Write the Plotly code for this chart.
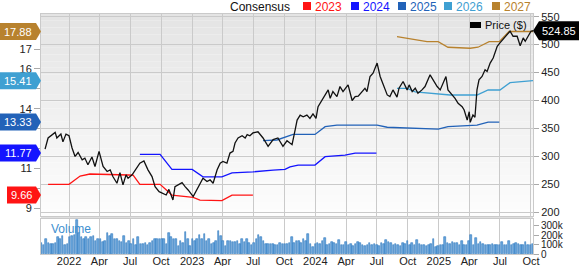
import plotly.graph_objects as go
import pandas as pd

# ---------------- data ----------------
price_dates = [
    "2021-10-22", "2021-10-31", "2021-11-21", "2021-11-26", "2021-12-08", "2021-12-14", "2021-12-23",
    "2022-01-01", "2022-01-10", "2022-01-19", "2022-01-28", "2022-02-09", "2022-02-17", "2022-02-26",
    "2022-03-10", "2022-03-19", "2022-03-31", "2022-04-12", "2022-04-24", "2022-05-03", "2022-05-11",
    "2022-05-23", "2022-06-01", "2022-06-10", "2022-06-19", "2022-06-25", "2022-07-07", "2022-07-22",
    "2022-07-30", "2022-08-11", "2022-08-23", "2022-09-04", "2022-09-13", "2022-09-25", "2022-10-07",
    "2022-10-16", "2022-10-24", "2022-11-05", "2022-11-11", "2022-11-20", "2022-12-02", "2022-12-11",
    "2022-12-20", "2023-01-04", "2023-01-15", "2023-01-24", "2023-02-02", "2023-02-14", "2023-02-23",
    "2023-03-04", "2023-03-16", "2023-03-25", "2023-04-02", "2023-04-14", "2023-04-23", "2023-05-02",
    "2023-05-08", "2023-05-17", "2023-05-29", "2023-06-07", "2023-06-13", "2023-06-21", "2023-06-30",
    "2023-07-15", "2023-07-30", "2023-08-14", "2023-08-29", "2023-09-12", "2023-09-27", "2023-10-09",
    "2023-10-24", "2023-11-02", "2023-11-08", "2023-11-17", "2023-11-26", "2023-12-07", "2023-12-16",
    "2023-12-25", "2024-01-03", "2024-01-09", "2024-01-21", "2024-01-30", "2024-02-08", "2024-02-14",
    "2024-02-22", "2024-03-05", "2024-03-14", "2024-03-23", "2024-04-04", "2024-04-07", "2024-04-19",
    "2024-04-28", "2024-05-07", "2024-05-18", "2024-05-27", "2024-06-02", "2024-06-11", "2024-06-20",
    "2024-07-02", "2024-07-11", "2024-07-20", "2024-08-01", "2024-08-09", "2024-08-18", "2024-08-30",
    "2024-09-05", "2024-09-17", "2024-09-29", "2024-10-05", "2024-10-14", "2024-10-23", "2024-10-31",
    "2024-11-12", "2024-11-21", "2024-12-06", "2024-12-15", "2024-12-27", "2025-01-05", "2025-01-14",
    "2025-01-22", "2025-01-28", "2025-02-09", "2025-02-18", "2025-02-27", "2025-03-11", "2025-03-17",
    "2025-03-26", "2025-04-01", "2025-04-04", "2025-04-12", "2025-04-18", "2025-04-24", "2025-04-30",
    "2025-05-09", "2025-05-18", "2025-05-24", "2025-06-02", "2025-06-11", "2025-06-23", "2025-07-01",
    "2025-07-10", "2025-07-22", "2025-07-31", "2025-08-09", "2025-08-21", "2025-08-30", "2025-09-08",
    "2025-09-14", "2025-09-22", "2025-10-01", "2025-10-07",
]
price_vals = [
    313, 333, 343, 333, 340, 326, 340,
    337, 315, 300, 307, 294, 297, 285,
    299, 282, 309, 282, 273, 276, 264,
    252, 271, 249, 267, 261, 267, 282,
    288, 292, 276, 264, 246, 237, 233,
    231, 241, 222, 246, 249, 253, 246,
    240, 228, 240, 249, 261, 255, 258,
    252, 276, 288, 291, 288, 306, 309,
    324, 333, 337, 333, 339, 337, 342,
    344, 333, 318, 330, 333, 318, 328,
    321, 347, 365, 374, 371, 374, 368,
    376, 368, 389, 401, 410, 419, 404,
    416, 407, 425, 416, 425, 428, 400,
    407, 408, 416, 422, 416, 443, 449,
    467, 443, 428, 410, 407, 419, 406,
    422, 434, 419, 428, 416, 422, 413,
    419, 425, 446, 437, 425, 419, 431,
    443, 419, 410, 404, 395, 389, 383,
    365, 380, 361, 374, 370, 419, 437,
    443, 455, 452, 467, 476, 497, 503,
    509, 518, 524, 515, 515, 498, 512,
    506, 515, 524, 524.85,
]

eps23_dates = ["2021-10-31", "2022-01-01", "2022-02-03", "2022-03-04", "2022-06-25", "2022-07-10",
               "2022-07-30", "2022-09-28", "2022-11-02", "2023-01-04", "2023-01-24", "2023-03-30",
               "2023-04-29", "2023-06-30"]
eps23_vals = [10.2, 10.2, 10.62, 10.72, 10.67, 10.66, 10.2, 10.2, 9.66, 9.55, 9.41, 9.38, 9.66, 9.66]

eps24_dates = ["2022-07-30", "2022-09-28", "2022-11-02", "2023-01-01", "2023-02-02", "2023-03-30",
               "2023-04-29", "2023-06-30", "2023-08-29", "2023-10-03", "2023-10-18", "2023-11-11",
               "2023-12-31", "2024-01-30", "2024-03-29", "2024-04-28", "2024-06-30"]
eps24_vals = [11.71, 11.71, 10.95, 10.95, 10.58, 10.58, 10.78, 10.83, 10.92, 10.95, 11.08, 11.17,
              11.17, 11.59, 11.67, 11.77, 11.77]

eps25_dates = ["2023-07-30", "2023-09-09", "2023-10-27", "2023-12-31", "2024-01-30", "2024-03-05",
               "2024-07-02", "2024-08-01", "2024-12-30", "2025-01-28", "2025-04-24", "2025-05-27",
               "2025-06-29"]
eps25_vals = [12.40, 12.43, 12.71, 12.71, 13.10, 13.18, 13.18, 13.07, 12.98, 13.10, 13.18, 13.33, 13.33]

eps26_dates = ["2024-08-30", "2024-09-29", "2024-10-23", "2025-02-03", "2025-04-24", "2025-05-27",
               "2025-07-01", "2025-07-31", "2025-10-07"]
eps26_vals = [15.02, 15.02, 14.85, 14.69, 14.69, 14.94, 14.94, 15.31, 15.41]

eps27_dates = ["2024-08-30", "2024-11-27", "2024-12-30", "2025-01-28", "2025-04-04", "2025-04-27",
               "2025-05-30", "2025-06-29", "2025-07-28", "2025-10-07"]
eps27_vals = [17.62, 17.37, 17.37, 17.09, 17.04, 17.09, 17.37, 17.37, 17.88, 17.88]

volume_start = "2021-10-11"
volume_k = [
    118, 93, 164, 118, 107, 107, 118, 179, 154, 189,
    93, 107, 179, 189, 200, 357, 225, 179, 164, 179,
    164, 179, 189, 136, 154, 154, 129, 136, 225, 189,
    214, 164, 154, 143, 129, 189, 118, 136, 107, 164,
    100, 179, 107, 107, 118, 100, 118, 136, 154, 154,
    154, 154, 164, 107, 225, 179, 164, 164, 82, 143,
    118, 236, 164, 82, 164, 136, 154, 200, 164, 207,
    136, 164, 107, 118, 136, 243, 189, 143, 82, 136,
    143, 129, 129, 136, 107, 164, 129, 154, 118, 93,
    118, 154, 200, 179, 136, 107, 107, 107, 107, 93,
    100, 118, 107, 107,
    107, 118, 180, 118, 136, 143, 118, 154, 136, 215,
    107, 71, 107, 118, 107, 143, 170, 100, 107, 129,
    118, 107, 150, 93, 100, 129, 93, 107, 82, 107,
    125, 118, 93, 82, 100, 118, 100, 107, 93, 82,
    115, 107, 150, 129, 118, 100, 107, 93, 82, 118,
    107, 136, 93, 118, 100, 150, 107, 93, 100, 82,
    93, 107, 160, 71, 82, 100, 93, 175, 118, 107,
    129, 118, 118, 100, 136, 100, 93, 143, 200, 100,
    165, 107, 129, 107, 100, 93, 100, 107, 100, 93,
    100, 129, 93, 93, 140, 93, 107, 118, 107, 100,
    93, 125, 93, 100, 107,
]

tick_dates = ["2022-01-01", "2022-04-01", "2022-07-01", "2022-10-01",
              "2023-01-01", "2023-04-01", "2023-07-01", "2023-10-01",
              "2024-01-01", "2024-04-01", "2024-07-01", "2024-10-01",
              "2025-01-01", "2025-04-01", "2025-07-01", "2025-10-01"]
tick_text = ["2022", "Apr", "Jul", "Oct", "2023", "Apr", "Jul", "Oct",
             "2024", "Apr", "Jul", "Oct", "2025", "Apr", "Jul", "Oct"]

eps_tick_vals = [9, 10, 11, 12, 13, 14, 15, 16, 17]
eps_tick_text = ["9", "", "11", "", "", "14", "", "16", "17"]  # others hidden behind badges

price_tick_vals = [200, 250, 300, 350, 400, 450, 500, 550]
vol_tick_vals = [0, 100000, 200000, 300000]
vol_tick_text = ["0", "100k", "200k", "300k"]

series = [
    ("2023", eps23_dates, eps23_vals, "#ff1414"),
    ("2024", eps24_dates, eps24_vals, "#1414ff"),
    ("2025", eps25_dates, eps25_vals, "#2262b8"),
    ("2026", eps26_dates, eps26_vals, "#3fa0d2"),
    ("2027", eps27_dates, eps27_vals, "#b8822e"),
]

# ---------------- layout geometry ----------------
W, H = 579, 266
L, R, T, B = 41, 46, 14, 12
PW = W - L - R
PH = H - T - B
FONT = "Liberation Sans, Arial, sans-serif"


def pxx(p):
    return (p - L) / PW


def pxy(p):
    return (H - B - p) / PH


price_dom = [pxy(216), 1.0]
vol_dom = [0.0, pxy(219)]

fig = go.Figure()

vol_dates = pd.date_range(volume_start, periods=len(volume_k), freq="7D")
fig.add_trace(go.Bar(
    x=vol_dates, y=[v * 1000 for v in volume_k], yaxis="y3", xaxis="x",
    marker=dict(color="#6aa6dc", line=dict(color="#2f78c0", width=0.6)),
    width=4.6 * 24 * 3600 * 1000, showlegend=False, hoverinfo="skip",
))

for name, d, v, c in series:
    fig.add_trace(go.Scatter(x=d, y=v, yaxis="y", mode="lines",
                             line=dict(color=c, width=1.3), showlegend=False))

fig.add_trace(go.Scatter(x=price_dates, y=price_vals, yaxis="y2", mode="lines",
                         line=dict(color="#111111", width=1.3), showlegend=False))

grid = "#cacaca"
fig.update_layout(
    width=W, height=H,
    margin=dict(l=L, r=R, t=T, b=B, pad=0),
    paper_bgcolor="white", plot_bgcolor="rgba(0,0,0,0)",
    font=dict(family=FONT, size=11, color="#222"),
    showlegend=False,
    bargap=0,
    xaxis=dict(type="date", range=["2021-10-10", "2025-10-07"], domain=[0, 1], anchor="y3",
               tickvals=tick_dates, ticktext=tick_text, showgrid=True, gridcolor=grid, gridwidth=1,
               ticks="", showline=True, linecolor=grid, mirror="all", automargin=False,
               ticklabelstandoff=-3,
               tickfont=dict(size=11, color="#222"), zeroline=False),
    yaxis=dict(domain=price_dom, range=[8.61, 18.76], side="left", anchor="x",
               tickvals=eps_tick_vals, ticktext=eps_tick_text, showgrid=False, zeroline=False,
               ticks="outside", ticklen=6, tickcolor="#aaaaaa", automargin=False,
               showline=True, linecolor=grid, tickfont=dict(size=11, color="#222")),
    yaxis2=dict(overlaying="y", side="right", range=[193.4, 554.8], anchor="x",
                tickvals=price_tick_vals, showgrid=True,
                gridcolor=grid, gridwidth=1, zeroline=False, ticks="outside", ticklen=5,
                tickcolor="#aaaaaa", automargin=False, showline=True, linecolor=grid,
                tickfont=dict(size=11, color="#222")),
    yaxis3=dict(domain=vol_dom, range=[0, 371000], side="right", anchor="x",
                tickvals=vol_tick_vals, ticktext=vol_tick_text,
                showgrid=False, zeroline=False, ticks="outside", ticklen=5, tickcolor="#aaaaaa",
                automargin=False, showline=True, linecolor=grid, mirror=True,
                tickfont=dict(size=10, color="#222")),
)

shapes = []
# gradient background in the price panel
n = 30
for i in range(n):
    g0 = 228 + (253 - 228) * i / (n - 1)
    g = int(round(g0))
    shapes.append(dict(type="rect", xref="x domain", yref="y domain",
                       x0=0, x1=1, y0=1 - (i + 1) / n, y1=1 - i / n,
                       fillcolor=f"rgb({g},{g},{g})", line=dict(width=0), layer="below"))
# separator band between panels
shapes.append(dict(type="rect", xref="paper", yref="paper", x0=0, x1=1,
                   y0=pxy(219), y1=pxy(216), fillcolor="#dedede", line=dict(width=0), layer="below"))

annotations = []
# EPS badges on left
for name, d, v, c in series:
    last = v[-1]
    label = f"{last:.2f}"
    left = -41 if len(label) >= 5 else -34
    shapes.append(dict(type="path", xref="paper", yref="y", xsizemode="pixel", ysizemode="pixel",
                       xanchor=0, yanchor=last,
                       path=f"M{left},-8.5 L-5,-8.5 L0,0 L-5,8.5 L{left},8.5 Z",
                       fillcolor=c, line=dict(width=0), layer="above"))
    annotations.append(dict(xref="paper", yref="y", x=0, y=last, xshift=(left - 5) / 2,
                            showarrow=False, xanchor="center", yanchor="middle", text=label,
                            font=dict(size=11, color="white", family=FONT)))

# price badge on right
last_price = price_vals[-1]
shapes.append(dict(type="path", xref="paper", yref="y2", xsizemode="pixel", ysizemode="pixel",
                   xanchor=1, yanchor=last_price,
                   path="M0,0 L6,-9.5 L46,-9.5 L46,9.5 L6,9.5 Z",
                   fillcolor="#000000", line=dict(width=0), layer="above"))
annotations.append(dict(xref="paper", yref="y2", x=1, y=last_price, xshift=26, showarrow=False,
                        xanchor="center", yanchor="middle", text=f"{last_price:.2f}",
                        font=dict(size=11, color="white", family=FONT)))

# top legend
LEG_Y = 7
annotations.append(dict(xref="paper", yref="paper", x=pxx(229), y=pxy(LEG_Y), xanchor="left",
                        yanchor="middle", showarrow=False, text="Consensus", borderpad=0,
                        font=dict(size=12, color="#111", family=FONT)))
sq_x = [303, 351, 398, 444, 492]
for (name, d, v, c), sx in zip(series, sq_x):
    shapes.append(dict(type="rect", xref="paper", yref="paper", x0=pxx(sx), x1=pxx(sx + 8),
                       y0=pxy(10), y1=pxy(2), fillcolor=c, line=dict(width=0)))
    annotations.append(dict(xref="paper", yref="paper", x=pxx(sx + 11), y=pxy(LEG_Y),
                            xanchor="left", yanchor="middle", showarrow=False, text=name,
                            borderpad=0, font=dict(size=12, color=c, family=FONT)))

# price legend
shapes.append(dict(type="rect", xref="paper", yref="paper", x0=pxx(470), x1=pxx(481),
                   y0=pxy(28), y1=pxy(22), fillcolor="#000", line=dict(width=0)))
annotations.append(dict(xref="paper", yref="paper", x=pxx(483), y=pxy(25), xanchor="left",
                        yanchor="middle", showarrow=False, text="Price ($)",
                        font=dict(size=11, color="#111", family=FONT)))

# volume label
annotations.append(dict(xref="paper", yref="paper", x=pxx(49), y=pxy(229), xanchor="left",
                        yanchor="middle", showarrow=False, text="Volume",
                        font=dict(size=12, color="#3d8fd0", family=FONT)))

fig.update_layout(shapes=shapes, annotations=annotations)
fig.write_html("out.html")
